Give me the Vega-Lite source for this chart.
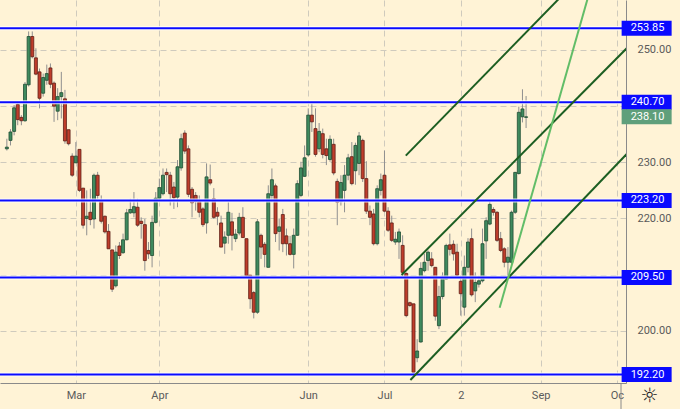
{
  "$schema": "https://vega.github.io/schema/vega-lite/v6.json",
  "width": 626,
  "height": 383,
  "autosize": {"type": "none"},
  "padding": {"left": 0, "top": 0, "right": 54, "bottom": 26},
  "background": "#fff3d6",
  "config": {"view": {"stroke": null}, "font": "Roboto"},
  "datasets": {
    "candles": [
      {"i":-19,"o":232.4,"h":234.2,"l":232.1,"c":232.7},
      {"i":-18,"o":233.9,"h":235.9,"l":233.0,"c":235.4},
      {"i":-17,"o":235.5,"h":240.2,"l":234.8,"c":239.7},
      {"i":-16,"o":240.3,"h":240.8,"l":236.6,"c":237.6},
      {"i":-15,"o":238.0,"h":238.4,"l":236.6,"c":237.4},
      {"i":-14,"o":237.4,"h":244.3,"l":237.2,"c":243.9},
      {"i":-13,"o":243.8,"h":253.3,"l":243.5,"c":252.4},
      {"i":-12,"o":252.4,"h":253.3,"l":248.5,"c":248.8},
      {"i":-11,"o":248.6,"h":250.3,"l":245.5,"c":245.7},
      {"i":-10,"o":246.1,"h":246.7,"l":239.6,"c":241.4},
      {"i":-9,"o":242.3,"h":245.8,"l":241.7,"c":245.1},
      {"i":-8,"o":244.6,"h":247.4,"l":243.8,"c":245.8},
      {"i":-7,"o":246.8,"h":247.6,"l":243.2,"c":243.9},
      {"i":-6,"o":244.1,"h":244.4,"l":237.2,"c":240.0},
      {"i":-5,"o":239.1,"h":243.2,"l":237.5,"c":241.7},
      {"i":-4,"o":241.7,"h":246.1,"l":237.8,"c":242.4},
      {"i":-3,"o":241.3,"h":242.9,"l":233.3,"c":233.8},
      {"i":-2,"o":235.8,"h":235.8,"l":233.0,"c":233.3},
      {"i":-1,"o":231.1,"h":231.6,"l":227.4,"c":227.7},
      {"i":0,"o":229.9,"h":233.6,"l":229.9,"c":231.1},
      {"i":1,"o":232.3,"h":232.3,"l":224.7,"c":225.0},
      {"i":2,"o":225.4,"h":225.4,"l":218.2,"c":218.8},
      {"i":3,"o":220.0,"h":225.0,"l":217.0,"c":220.4},
      {"i":4,"o":221.1,"h":225.3,"l":218.8,"c":219.8},
      {"i":5,"o":219.9,"h":228.0,"l":218.2,"c":227.7},
      {"i":6,"o":227.7,"h":228.3,"l":223.5,"c":224.1},
      {"i":7,"o":223.1,"h":224.1,"l":219.1,"c":219.5},
      {"i":8,"o":220.4,"h":220.5,"l":217.3,"c":217.6},
      {"i":9,"o":217.7,"h":219.0,"l":214.6,"c":214.6},
      {"i":10,"o":214.4,"h":214.4,"l":206.9,"c":207.4},
      {"i":11,"o":208.0,"h":215.2,"l":207.7,"c":214.0},
      {"i":12,"o":215.1,"h":215.8,"l":212.8,"c":213.4},
      {"i":13,"o":213.9,"h":217.3,"l":213.7,"c":216.2},
      {"i":14,"o":216.2,"h":221.7,"l":216.1,"c":221.0},
      {"i":15,"o":221.0,"h":223.5,"l":220.8,"c":221.6},
      {"i":16,"o":221.0,"h":224.7,"l":220.2,"c":222.1},
      {"i":17,"o":222.0,"h":223.5,"l":218.5,"c":218.8},
      {"i":18,"o":219.5,"h":220.2,"l":216.4,"c":219.1},
      {"i":19,"o":218.9,"h":219.9,"l":210.7,"c":212.5},
      {"i":20,"o":214.3,"h":215.8,"l":212.8,"c":213.7},
      {"i":21,"o":213.4,"h":220.5,"l":211.3,"c":219.3},
      {"i":22,"o":219.3,"h":224.7,"l":219.1,"c":223.6},
      {"i":23,"o":223.6,"h":227.1,"l":223.2,"c":225.5},
      {"i":24,"o":224.4,"h":228.9,"l":224.1,"c":227.7},
      {"i":25,"o":228.2,"h":228.9,"l":224.7,"c":227.8},
      {"i":26,"o":227.7,"h":228.3,"l":222.3,"c":224.4},
      {"i":27,"o":225.6,"h":226.5,"l":221.7,"c":223.7},
      {"i":28,"o":223.8,"h":230.4,"l":222.0,"c":229.2},
      {"i":29,"o":229.0,"h":235.1,"l":228.5,"c":234.2},
      {"i":30,"o":235.2,"h":235.7,"l":231.5,"c":232.0},
      {"i":31,"o":232.4,"h":233.0,"l":223.8,"c":224.3},
      {"i":32,"o":225.2,"h":225.6,"l":220.2,"c":222.8},
      {"i":33,"o":224.1,"h":224.7,"l":221.4,"c":223.0},
      {"i":34,"o":223.0,"h":224.1,"l":220.2,"c":221.1},
      {"i":35,"o":221.7,"h":222.0,"l":218.5,"c":218.9},
      {"i":36,"o":219.2,"h":229.8,"l":217.3,"c":227.4},
      {"i":37,"o":226.9,"h":229.6,"l":225.9,"c":226.3},
      {"i":38,"o":223.5,"h":225.4,"l":219.9,"c":220.2},
      {"i":39,"o":221.1,"h":222.0,"l":218.8,"c":220.4},
      {"i":40,"o":219.2,"h":220.5,"l":214.9,"c":214.9},
      {"i":41,"o":215.6,"h":217.7,"l":213.7,"c":216.7},
      {"i":42,"o":217.0,"h":222.9,"l":215.5,"c":221.1},
      {"i":43,"o":219.4,"h":221.0,"l":214.3,"c":217.0},
      {"i":44,"o":216.4,"h":218.1,"l":215.8,"c":217.2},
      {"i":45,"o":217.4,"h":221.0,"l":217.0,"c":220.2},
      {"i":46,"o":220.2,"h":222.0,"l":216.6,"c":216.6},
      {"i":47,"o":216.4,"h":216.4,"l":209.5,"c":209.8},
      {"i":48,"o":209.9,"h":209.9,"l":203.9,"c":205.7},
      {"i":49,"o":206.8,"h":207.1,"l":202.2,"c":203.3},
      {"i":50,"o":203.3,"h":219.9,"l":203.0,"c":219.4},
      {"i":51,"o":217.0,"h":217.3,"l":212.8,"c":214.9},
      {"i":52,"o":215.4,"h":215.8,"l":211.3,"c":213.6},
      {"i":53,"o":211.3,"h":225.9,"l":211.3,"c":224.4},
      {"i":54,"o":224.1,"h":228.9,"l":222.9,"c":226.9},
      {"i":55,"o":225.8,"h":226.2,"l":215.8,"c":217.3},
      {"i":56,"o":217.7,"h":220.0,"l":214.3,"c":218.5},
      {"i":57,"o":220.7,"h":221.7,"l":214.0,"c":215.5},
      {"i":58,"o":216.9,"h":218.2,"l":213.4,"c":215.5},
      {"i":59,"o":215.5,"h":216.9,"l":213.4,"c":213.6},
      {"i":60,"o":213.6,"h":218.2,"l":211.1,"c":217.0},
      {"i":61,"o":217.0,"h":226.8,"l":216.9,"c":226.2},
      {"i":62,"o":224.1,"h":230.1,"l":223.8,"c":229.0},
      {"i":63,"o":227.5,"h":233.0,"l":227.4,"c":230.8},
      {"i":64,"o":231.3,"h":239.6,"l":231.0,"c":238.4},
      {"i":65,"o":238.4,"h":240.5,"l":235.4,"c":237.2},
      {"i":66,"o":236.0,"h":239.6,"l":231.0,"c":231.4},
      {"i":67,"o":232.4,"h":237.0,"l":231.8,"c":235.5},
      {"i":68,"o":235.1,"h":236.0,"l":230.7,"c":231.4},
      {"i":69,"o":232.4,"h":234.2,"l":229.5,"c":231.2},
      {"i":70,"o":230.5,"h":234.8,"l":230.1,"c":234.1},
      {"i":71,"o":233.2,"h":234.2,"l":227.7,"c":228.1},
      {"i":72,"o":226.6,"h":227.1,"l":218.8,"c":222.9},
      {"i":73,"o":223.0,"h":227.7,"l":222.3,"c":226.4},
      {"i":74,"o":225.0,"h":229.5,"l":221.1,"c":227.7},
      {"i":75,"o":227.7,"h":231.5,"l":226.8,"c":230.8},
      {"i":76,"o":231.0,"h":233.6,"l":225.9,"c":226.2},
      {"i":77,"o":228.5,"h":233.5,"l":226.0,"c":233.0},
      {"i":78,"o":229.8,"h":235.4,"l":227.7,"c":234.7},
      {"i":79,"o":233.9,"h":234.2,"l":226.5,"c":227.1},
      {"i":80,"o":227.1,"h":230.2,"l":220.8,"c":221.3},
      {"i":81,"o":221.3,"h":222.3,"l":218.8,"c":220.2},
      {"i":82,"o":220.8,"h":221.7,"l":215.2,"c":215.5},
      {"i":83,"o":215.5,"h":225.9,"l":215.2,"c":225.3},
      {"i":84,"o":225.0,"h":228.0,"l":224.1,"c":226.9},
      {"i":85,"o":227.7,"h":232.1,"l":221.1,"c":221.3},
      {"i":86,"o":221.3,"h":222.0,"l":217.6,"c":217.9},
      {"i":87,"o":219.2,"h":220.5,"l":215.8,"c":216.1},
      {"i":88,"o":215.8,"h":217.6,"l":215.3,"c":216.3},
      {"i":89,"o":215.8,"h":218.2,"l":212.8,"c":217.6},
      {"i":90,"o":215.2,"h":217.0,"l":210.1,"c":210.4},
      {"i":91,"o":210.2,"h":210.4,"l":202.4,"c":202.7},
      {"i":92,"o":205.0,"h":205.2,"l":204.2,"c":204.5},
      {"i":93,"o":204.8,"h":204.8,"l":192.2,"c":192.6},
      {"i":94,"o":195.2,"h":198.5,"l":194.4,"c":196.4},
      {"i":95,"o":198.0,"h":212.2,"l":197.9,"c":211.1},
      {"i":96,"o":210.7,"h":213.7,"l":210.4,"c":212.2},
      {"i":97,"o":212.5,"h":214.3,"l":210.7,"c":214.0},
      {"i":98,"o":212.8,"h":214.0,"l":211.3,"c":211.6},
      {"i":99,"o":211.3,"h":211.3,"l":201.8,"c":202.6},
      {"i":100,"o":200.9,"h":208.0,"l":200.3,"c":206.1},
      {"i":101,"o":206.1,"h":210.4,"l":205.6,"c":209.5},
      {"i":102,"o":209.2,"h":215.5,"l":209.1,"c":215.2},
      {"i":103,"o":215.3,"h":217.3,"l":213.4,"c":214.5},
      {"i":104,"o":215.4,"h":216.1,"l":212.5,"c":213.7},
      {"i":105,"o":214.0,"h":215.5,"l":209.8,"c":209.9},
      {"i":106,"o":208.8,"h":209.8,"l":202.7,"c":206.6},
      {"i":107,"o":204.2,"h":213.4,"l":202.7,"c":211.3},
      {"i":108,"o":211.3,"h":216.5,"l":210.4,"c":215.8},
      {"i":109,"o":216.4,"h":218.2,"l":206.1,"c":206.4},
      {"i":110,"o":207.1,"h":210.4,"l":205.1,"c":208.6},
      {"i":111,"o":208.3,"h":209.8,"l":207.7,"c":208.9},
      {"i":112,"o":208.9,"h":218.2,"l":208.6,"c":215.5},
      {"i":113,"o":216.0,"h":220.2,"l":212.8,"c":219.6},
      {"i":114,"o":219.0,"h":223.3,"l":218.8,"c":222.5},
      {"i":115,"o":221.6,"h":222.0,"l":220.5,"c":221.1},
      {"i":116,"o":221.1,"h":221.3,"l":215.8,"c":216.1},
      {"i":117,"o":216.4,"h":217.6,"l":214.0,"c":214.3},
      {"i":118,"o":214.6,"h":214.9,"l":211.3,"c":212.2},
      {"i":119,"o":212.2,"h":214.9,"l":209.5,"c":213.1},
      {"i":120,"o":212.2,"h":221.4,"l":211.9,"c":221.1},
      {"i":121,"o":221.1,"h":228.3,"l":220.8,"c":228.2},
      {"i":122,"o":228.0,"h":239.9,"l":227.8,"c":238.9},
      {"i":123,"o":238.1,"h":243.0,"l":237.1,"c":239.5},
      {"i":124,"o":238.0,"h":241.8,"l":236.1,"c":238.1}
    ],
    "levels": [
      {"price": 253.85},
      {"price": 240.70},
      {"price": 223.20},
      {"price": 209.50},
      {"price": 192.20}
    ],
    "pricelines": [
      {"price": 253.3, "kind": "high"},
      {"price": 238.1, "kind": "last"}
    ],
    "trend": [
      {"xa": 90.87, "ya": 231.18, "xb": 140.0, "yb": 263.73, "kind": "channel"},
      {"xa": 89.70, "ya": 209.93, "xb": 152.0, "yb": 250.49, "kind": "channel"},
      {"xa": 92.14, "ya": 191.24, "xb": 152.0, "yb": 231.67, "kind": "channel"},
      {"xa": 116.72, "ya": 204.11, "xb": 145.0, "yb": 268.35, "kind": "steep"}
    ],
    "tags": [
      {"price": 253.85, "kind": "level"},
      {"price": 240.70, "kind": "level"},
      {"price": 238.10, "kind": "last"},
      {"price": 223.20, "kind": "level"},
      {"price": 209.50, "kind": "level"},
      {"price": 192.20, "kind": "level"}
    ],
    "corner": [
      {"icon": "☼"}
    ]
  },
  "layer": [
    {
      "data": {"name": "pricelines"},
      "mark": {"type": "rule", "strokeWidth": 1, "strokeDash": [1, 2]},
      "encoding": {
        "x": {"field": "i", "type": "quantitative", "scale": {"domain": [-19.51, 150.14], "nice": false, "zero": false},
          "axis": {"orient": "bottom", "values": [0, 23, 64, 85, 106, 128, 149],
            "labelExpr": "datum.value == 0 ? 'Mar' : datum.value == 23 ? 'Apr' : datum.value == 64 ? 'Jun' : datum.value == 85 ? 'Jul' : datum.value == 106 ? '2' : datum.value == 128 ? 'Sep' : 'Oc'",
            "title": null, "ticks": false, "labelPadding": 6, "labelFontSize": 11, "labelColor": "#5a5a5a", "labelFont": "Roboto",
            "domainColor": "#8a8a8a", "grid": true, "gridColor": "#cfcabd", "gridDash": [6, 4], "labelFlush": false, "labelOverlap": false}},
        "y": {"field": "price", "type": "quantitative", "scale": {"domain": [190.7, 258.9], "nice": false, "zero": false},
          "axis": {"orient": "right", "values": [200, 210, 220, 230, 240, 250],
            "labelExpr": "datum.value == 210 || datum.value == 240 ? '' : format(datum.value, '.2f')",
            "title": null, "ticks": false,
            "labelPadding": 11, "labelFontSize": 11, "labelColor": "#5a5a5a", "labelFont": "Roboto", "domainColor": "#8a8a8a",
            "grid": true, "gridColor": "#cfcabd", "gridDash": [6, 4], "labelFlush": false, "labelOverlap": false}},
        "stroke": {"condition": {"test": "datum.kind == 'last'", "value": "#5f9f7b"}, "value": "#9a9a9a"}
      }
    },
    {
      "data": {"name": "candles"},
      "mark": {"type": "rule", "color": "#8f8f8f", "strokeWidth": 1},
      "encoding": {
        "x": {"field": "i", "type": "quantitative"},
        "y": {"field": "l", "type": "quantitative"},
        "y2": {"field": "h"}
      }
    },
    {
      "data": {"name": "candles"},
      "mark": {"type": "bar", "width": 3, "strokeWidth": 0.8},
      "encoding": {
        "x": {"field": "i", "type": "quantitative"},
        "y": {"field": "o", "type": "quantitative"},
        "y2": {"field": "c"},
        "fill": {"condition": {"test": "datum.c >= datum.o", "value": "#3f8a5e"}, "value": "#bf3d2b"},
        "stroke": {"condition": {"test": "datum.c >= datum.o", "value": "#1e4d32"}, "value": "#5e1e15"}
      }
    },
    {
      "data": {"name": "levels"},
      "mark": {"type": "rule", "color": "#ffffff", "strokeWidth": 4, "opacity": 0.85},
      "encoding": {"y": {"field": "price", "type": "quantitative"}}
    },
    {
      "data": {"name": "levels"},
      "mark": {"type": "rule", "color": "#0a0aff", "strokeWidth": 2},
      "encoding": {"y": {"field": "price", "type": "quantitative"}}
    },
    {
      "data": {"name": "trend"},
      "mark": {"type": "rule", "strokeWidth": 2, "clip": true},
      "encoding": {
        "x": {"field": "xa", "type": "quantitative"},
        "y": {"field": "ya", "type": "quantitative"},
        "x2": {"field": "xb"},
        "y2": {"field": "yb"},
        "stroke": {"condition": {"test": "datum.kind == 'steep'", "value": "#62bd68"}, "value": "#1c5e22"}
      }
    },
    {
      "data": {"name": "tags"},
      "mark": {"type": "point", "shape": "M-1,-0.3H1V0.3H-1Z", "filled": true, "size": 2500, "opacity": 1, "strokeWidth": 0},
      "encoding": {
        "x": {"datum": 157.2, "type": "quantitative"},
        "y": {"field": "price", "type": "quantitative"},
        "fill": {"condition": {"test": "datum.kind == 'last'", "value": "#5f9f7b"}, "value": "#0a0aff"}
      }
    },
    {
      "data": {"name": "tags"},
      "mark": {"type": "text", "color": "#ffffff", "fontSize": 11, "font": "Roboto", "align": "center", "baseline": "middle"},
      "encoding": {
        "x": {"datum": 157.45, "type": "quantitative"},
        "y": {"field": "price", "type": "quantitative"},
        "text": {"field": "price", "type": "quantitative", "format": ".2f"}
      }
    },
    {
      "data": {"name": "corner"},
      "mark": {"type": "rule", "color": "#8a8a8a", "strokeWidth": 1},
      "encoding": {
        "x": {"datum": 150.14, "type": "quantitative"},
        "y": {"datum": 190.7, "type": "quantitative"},
        "y2": {"datum": 186.0}
      }
    },
    {
      "data": {"name": "corner"},
      "mark": {"type": "text", "fontSize": 20, "font": "DejaVu Sans", "color": "#222222", "align": "center", "baseline": "middle"},
      "encoding": {
        "x": {"datum": 158.0, "type": "quantitative"},
        "y": {"datum": 188.47, "type": "quantitative"},
        "text": {"field": "icon", "type": "nominal"}
      }
    }
  ]
}
